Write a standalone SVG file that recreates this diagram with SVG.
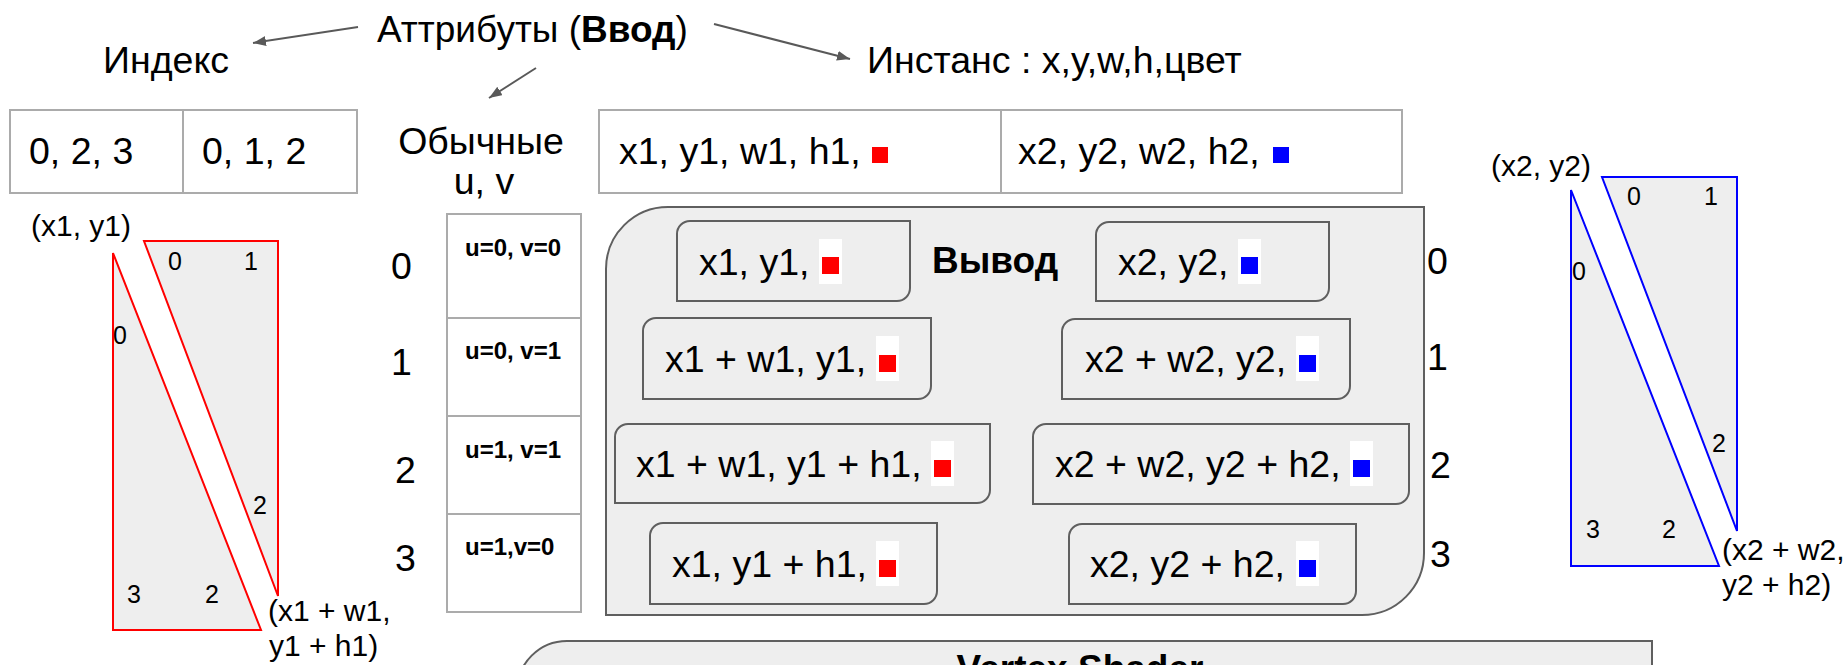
<svg xmlns="http://www.w3.org/2000/svg" width="1843" height="665" viewBox="0 0 1843 665">
  <defs>
    <marker id="arrowhead" markerUnits="userSpaceOnUse" markerWidth="14" markerHeight="10" refX="13" refY="5" orient="auto">
      <path d="M0,0 L13,5 L0,10 z" fill="#595959"/>
    </marker>
  </defs>
  <style>
    text { font-family: "Liberation Sans", Arial, sans-serif; fill: #000; }
    .t36 { font-size: 37.5px; }
    .b36 { font-size: 37px; font-weight: bold; }
    .uv { font-size: 24px; font-weight: bold; }
    .lbl { font-size: 30px; }
    .num { font-size: 25px; }
    .cell { fill: #ffffff; stroke: #ababab; stroke-width: 2; }
    .panel { fill: #eeeeee; stroke: #5f5f5f; stroke-width: 2; }
    .box { fill: #eeeeee; stroke: #5f5f5f; stroke-width: 2; }
    .hl { fill: #ffffff; }
    .red { fill: #ff0000; }
    .blue { fill: #0000ff; }
    .triR { fill: #eeeeee; stroke: #ff0000; stroke-width: 2; }
    .triB { fill: #eeeeee; stroke: #0000ff; stroke-width: 2; }
    .conn { stroke: #595959; stroke-width: 2; fill: none; marker-end: url(#arrowhead); }
  </style>

  <rect x="0" y="0" width="1843" height="665" fill="#ffffff"/>

  <!-- headings -->
  <g id="attributes-title">
    <text class="t36" x="377" y="42" style="font-size:37px">Аттрибуты (<tspan font-weight="bold">Ввод</tspan>)</text>
  </g>
  <g id="index-title">
    <text class="t36" x="103" y="73">Индекс</text>
  </g>
  <g id="instance-title">
    <text class="t36" x="867" y="73">Инстанс : x,y,w,h,цвет</text>
  </g>
  <g id="regular-title">
    <text class="t36" x="481" y="154" text-anchor="middle">Обычные</text>
    <text class="t36" x="484" y="194" text-anchor="middle">u, v</text>
  </g>

  <!-- index buffer -->
  <g id="index-table">
    <rect class="cell" x="10" y="110" width="173" height="83"/>
    <rect class="cell" x="183" y="110" width="174" height="83"/>
    <text class="t36" x="29" y="164">0, 2, 3</text>
    <text class="t36" x="202" y="164">0, 1, 2</text>
  </g>

  <!-- per-instance attributes -->
  <g id="instance-table">
    <rect class="cell" x="599" y="110" width="402" height="83"/>
    <rect class="cell" x="1001" y="110" width="401" height="83"/>
    <text class="t36" x="619" y="164">x1, y1, w1, h1,</text>
    <rect class="red" x="872" y="147" width="16" height="16"/>
    <text class="t36" x="1018" y="164">x2, y2, w2, h2,</text>
    <rect class="blue" x="1273" y="147" width="16" height="16"/>
  </g>

  <!-- per-vertex u,v -->
  <g id="uv-table">
    <rect class="cell" x="447" y="214" width="134" height="104"/>
    <rect class="cell" x="447" y="318" width="134" height="98"/>
    <rect class="cell" x="447" y="416" width="134" height="98"/>
    <rect class="cell" x="447" y="514" width="134" height="98"/>
    <text class="uv" x="465" y="256">u=0, v=0</text>
    <text class="uv" x="465" y="359">u=0, v=1</text>
    <text class="uv" x="465" y="458">u=1, v=1</text>
    <text class="uv" x="465" y="555">u=1,v=0</text>
  </g>
  <g id="uv-row-numbers">
    <text class="t36" x="391" y="279">0</text>
    <text class="t36" x="391" y="375">1</text>
    <text class="t36" x="395" y="483">2</text>
    <text class="t36" x="395" y="571">3</text>
  </g>

  <!-- vertex shader output panel -->
  <g id="output-panel">
    <path class="panel" d="M668,207 H1424 V553 A62,62 0 0 1 1362,615 H606 V269 A62,62 0 0 1 668,207 Z"/>
    <text class="b36" x="932" y="273">Вывод</text>
  </g>

  <g id="out-0-red">
    <path class="box" d="M690,221 H910 V288 A13,13 0 0 1 897,301 H677 V234 A13,13 0 0 1 690,221 Z"/>
    <text class="t36" x="699" y="275">x1, y1,</text>
    <rect class="hl" x="819" y="239" width="23" height="45"/>
    <rect class="red" x="822" y="257" width="17" height="17"/>
  </g>
  <g id="out-1-red">
    <path class="box" d="M656,318 H931 V386 A13,13 0 0 1 918,399 H643 V331 A13,13 0 0 1 656,318 Z"/>
    <text class="t36" x="665" y="372">x1 + w1, y1,</text>
    <rect class="hl" x="876" y="336" width="23" height="45"/>
    <rect class="red" x="879" y="355" width="17" height="17"/>
  </g>
  <g id="out-2-red">
    <path class="box" d="M628,424 H990 V490 A13,13 0 0 1 977,503 H615 V437 A13,13 0 0 1 628,424 Z"/>
    <text class="t36" x="636" y="477">x1 + w1, y1 + h1,</text>
    <rect class="hl" x="931" y="441" width="23" height="45"/>
    <rect class="red" x="934" y="460" width="17" height="17"/>
  </g>
  <g id="out-3-red">
    <path class="box" d="M663,523 H937 V591 A13,13 0 0 1 924,604 H650 V536 A13,13 0 0 1 663,523 Z"/>
    <text class="t36" x="672" y="577">x1, y1 + h1,</text>
    <rect class="hl" x="876" y="541" width="23" height="45"/>
    <rect class="red" x="879" y="560" width="17" height="17"/>
  </g>

  <g id="out-0-blue">
    <path class="box" d="M1109,222 H1329 V288 A13,13 0 0 1 1316,301 H1096 V235 A13,13 0 0 1 1109,222 Z"/>
    <text class="t36" x="1118" y="275">x2, y2,</text>
    <rect class="hl" x="1238" y="239" width="23" height="45"/>
    <rect class="blue" x="1241" y="257" width="17" height="17"/>
  </g>
  <g id="out-1-blue">
    <path class="box" d="M1075,319 H1350 V386 A13,13 0 0 1 1337,399 H1062 V332 A13,13 0 0 1 1075,319 Z"/>
    <text class="t36" x="1085" y="372">x2 + w2, y2,</text>
    <rect class="hl" x="1296" y="336" width="23" height="45"/>
    <rect class="blue" x="1299" y="355" width="17" height="17"/>
  </g>
  <g id="out-2-blue">
    <path class="box" d="M1046,424 H1409 V491 A13,13 0 0 1 1396,504 H1033 V437 A13,13 0 0 1 1046,424 Z"/>
    <text class="t36" x="1055" y="477">x2 + w2, y2 + h2,</text>
    <rect class="hl" x="1350" y="441" width="23" height="45"/>
    <rect class="blue" x="1353" y="460" width="17" height="17"/>
  </g>
  <g id="out-3-blue">
    <path class="box" d="M1082,524 H1356 V591 A13,13 0 0 1 1343,604 H1069 V537 A13,13 0 0 1 1082,524 Z"/>
    <text class="t36" x="1090" y="577">x2, y2 + h2,</text>
    <rect class="hl" x="1296" y="541" width="23" height="45"/>
    <rect class="blue" x="1299" y="560" width="17" height="17"/>
  </g>

  <g id="output-row-numbers">
    <text class="t36" x="1427" y="274">0</text>
    <text class="t36" x="1427" y="370">1</text>
    <text class="t36" x="1430" y="478">2</text>
    <text class="t36" x="1430" y="567">3</text>
  </g>

  <!-- vertex shader panel (continues below the frame) -->
  <g id="vertex-shader">
    <path class="panel" d="M567,641 H1652 V700 H517 V691 A50,50 0 0 1 567,641 Z"/>
    <text class="b36" x="1080" y="681" text-anchor="middle">Vertex Shader</text>
  </g>

  <!-- first quad, split into two triangles -->
  <g id="quad-red">
    <polygon class="triR" points="113,253 113,630 261,630"/>
    <polygon class="triR" points="144,241 278,241 278,596"/>
    <text class="lbl" x="31" y="236">(x1, y1)</text>
    <text class="num" x="168" y="270">0</text>
    <text class="num" x="244" y="270">1</text>
    <text class="num" x="113" y="344">0</text>
    <text class="num" x="253" y="514">2</text>
    <text class="num" x="127" y="603">3</text>
    <text class="num" x="205" y="603">2</text>
    <text class="lbl" x="268" y="621">(x1 + w1,</text>
    <text class="lbl" x="269" y="656">y1 + h1)</text>
  </g>

  <!-- second quad, split into two triangles -->
  <g id="quad-blue">
    <polygon class="triB" points="1571,190 1571,566 1719,566"/>
    <polygon class="triB" points="1602,177 1737,177 1737,531"/>
    <text class="lbl" x="1491" y="176">(x2, y2)</text>
    <text class="num" x="1627" y="205">0</text>
    <text class="num" x="1704" y="205">1</text>
    <text class="num" x="1572" y="280">0</text>
    <text class="num" x="1712" y="452">2</text>
    <text class="num" x="1586" y="538">3</text>
    <text class="num" x="1662" y="538">2</text>
    <text class="lbl" x="1722" y="560">(x2 + w2,</text>
    <text class="lbl" x="1722" y="595">y2 + h2)</text>
  </g>

  <!-- connectors -->
  <g id="connectors">
    <line class="conn" x1="358" y1="27" x2="253" y2="43"/>
    <line class="conn" x1="536" y1="68" x2="489" y2="98"/>
    <line class="conn" x1="714" y1="24" x2="850" y2="59"/>
  </g>
</svg>
